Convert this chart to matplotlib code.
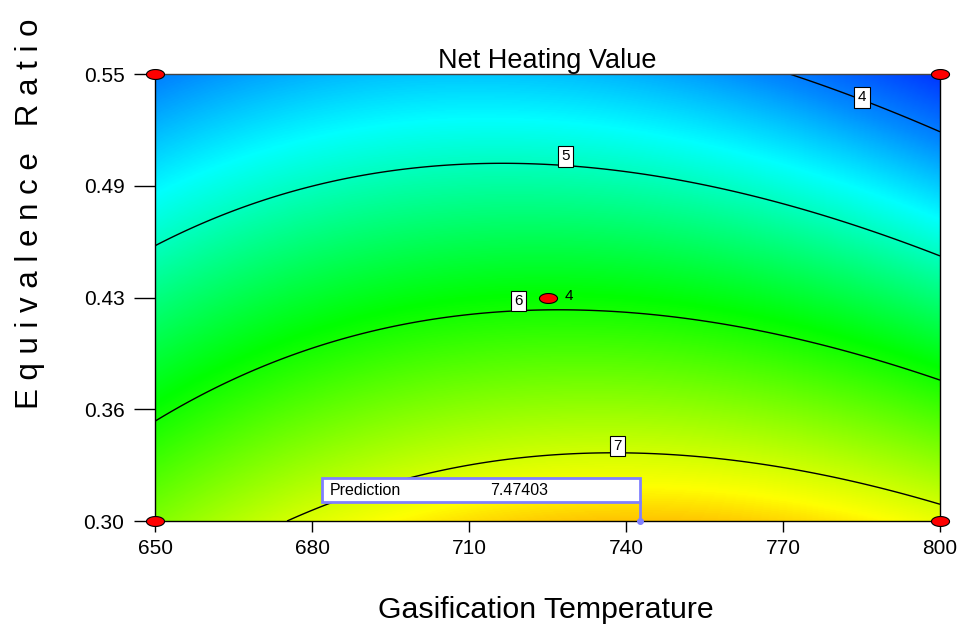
import numpy as np
import matplotlib

matplotlib.use("Agg")
import matplotlib.pyplot as plt
from matplotlib.colors import LinearSegmentedColormap
from matplotlib.path import Path
from matplotlib.patches import Rectangle

plt.rcParams["font.family"] = ["Liberation Sans", "DejaVu Sans"]

# factor ranges (actual units)
temp_range = [650, 800]
er_range = [0.30, 0.55]

# quadratic response model in coded units (-1..1)
b0 = 5.915
b_lin = [0.02, -1.537]      # temperature, ER
b_inter = -0.263
b_quad = [-0.60, 0.0]

contour_levels = [4, 5, 6, 7]
label_temp = [785.1, 728.5, 719.4, 738.3]
label_er = [0.537, 0.504, 0.423, 0.342]

design_temp = [650, 650, 800, 800, 725]
design_er = [0.30, 0.55, 0.30, 0.55, 0.425]
center_reps = "4"

pred_temp = 742.7
pred_er = 0.30
pred_text = "7.47403"

xticks = [650, 680, 710, 740, 770, 800]
yticks = [0.30, 0.3625, 0.425, 0.4875, 0.55]
ytick_labels = ["0.30", "0.36", "0.43", "0.49", "0.55"]

# colour stops by response value
stop_vals = [3.20, 4.10, 4.70, 5.90, 7.25, 7.60]
stop_cols = ["#0000ff", "#008cff", "#00ffff", "#00ff00", "#ffff00", "#ffaa00"]


def model(t, er):
    x1 = (t - 725.0) / 75.0
    x2 = (er - 0.425) / 0.125
    return (b0 + b_lin[0] * x1 + b_lin[1] * x2 + b_inter * x1 * x2
            + b_quad[0] * x1 ** 2 + b_quad[1] * x2 ** 2)


vmin, vmax = stop_vals[0], stop_vals[-1]
cmap = LinearSegmentedColormap.from_list(
    "de", [((v - vmin) / (vmax - vmin), c) for v, c in zip(stop_vals, stop_cols)])

T, E = np.meshgrid(np.linspace(*temp_range, 400), np.linspace(*er_range, 400))
Z = model(T, E)

fig = plt.figure(figsize=(9.64, 6.32), dpi=100)
ax = fig.add_axes([0.1608, 0.1756, 0.8143, 0.7073])

ax.imshow(Z, origin="lower", extent=[*temp_range, *er_range], aspect="auto",
          cmap=cmap, vmin=vmin, vmax=vmax, interpolation="bilinear")
ax.contour(T, E, Z, levels=contour_levels, colors="black", linewidths=1.0)

for lev, lt, le in zip(contour_levels, label_temp, label_er):
    ax.text(lt, le, str(lev), fontsize=11, ha="center", va="center", zorder=5,
            bbox=dict(boxstyle="square,pad=0.22", fc="white", ec="black", lw=0.8))

# design points as red ellipses
th = np.linspace(0, 2 * np.pi, 60)
ell = Path(np.column_stack([np.cos(th), 0.55 * np.sin(th)]), closed=True)
ax.scatter(design_temp, design_er, marker=ell, s=13 ** 2, c="#ff0000",
           edgecolors="black", linewidths=0.8, zorder=6, clip_on=False)
ax.annotate(center_reps, (design_temp[-1], design_er[-1]), xytext=(12, 1),
            textcoords="offset points", fontsize=11, va="center")

# prediction flag
flag_col = "#8080ff"
box_left, box_bottom, box_top = 681.9, 0.3106, 0.324
ax.add_patch(Rectangle((box_left, box_bottom), pred_temp - box_left, box_top - box_bottom,
                       fc="white", ec=flag_col, lw=2, zorder=7))
ax.plot([pred_temp, pred_temp], [box_bottom, pred_er], color=flag_col, lw=2, zorder=7)
ax.plot([pred_temp], [pred_er], "o", color=flag_col, ms=4, zorder=7, clip_on=False)
ax.text(box_left + 1.5, (box_bottom + box_top) / 2, "Prediction", fontsize=11.5,
        va="center", zorder=8)
ax.text(714.0, (box_bottom + box_top) / 2, pred_text, fontsize=11.5, va="center", zorder=8)

ax.set_xlim(*temp_range)
ax.set_ylim(*er_range)
ax.set_xticks(xticks)
ax.set_yticks(yticks)
ax.set_yticklabels(ytick_labels)
ax.tick_params(direction="out", width=1, labelsize=15)
ax.tick_params(axis="x", length=8, pad=5)
ax.tick_params(axis="y", length=15, pad=7)
for s in ax.spines.values():
    s.set_linewidth(1)
ax.spines["top"].set_color("#444444")

ax.set_title("Net Heating Value", fontsize=19.5, pad=4)
fig.text(0.5664, 1 - 610 / 632, "Gasification Temperature", fontsize=21.8,
         ha="center", va="center")
fig.text(30 / 964, 1 - 214 / 632, "E q u i v a l e n c e   R a t i o", fontsize=22.5,
         rotation=90, ha="center", va="center")

fig.savefig("out.png", dpi=100)
